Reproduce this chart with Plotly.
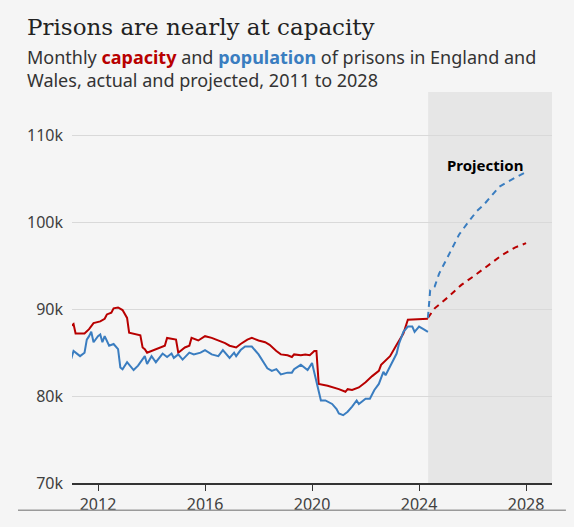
import plotly.graph_objects as go

# capacity (thousands), actual
cap_dates = ["2011-01", "2011-02", "2011-03", "2011-07", "2011-09", "2011-11", "2012-02", "2012-04",
             "2012-05", "2012-07", "2012-08", "2012-10", "2012-12", "2013-02", "2013-03", "2013-08",
             "2013-09", "2013-10", "2013-11", "2014-01", "2014-07", "2014-08", "2014-12", "2015-01",
             "2015-04", "2015-06", "2015-07", "2015-10", "2016-01", "2016-04", "2016-07", "2016-10",
             "2016-12", "2017-03", "2017-05", "2017-08", "2017-10", "2018-01", "2018-04", "2018-06",
             "2018-09", "2018-11", "2019-02", "2019-04", "2019-05", "2019-08", "2019-10", "2019-12",
             "2020-02", "2020-03", "2020-04", "2020-08", "2021-01", "2021-04", "2021-05", "2021-07",
             "2021-10", "2022-01", "2022-04", "2022-07", "2022-08", "2022-12", "2023-03", "2023-06",
             "2023-08", "2024-01", "2024-05"]
cap_values = [88.1, 88.3, 87.2, 87.2, 87.7, 88.4, 88.6, 88.9,
              89.4, 89.6, 90.1, 90.2, 89.9, 89.0, 87.3, 87.0,
              85.6, 85.4, 85.0, 85.2, 85.8, 86.7, 86.5, 85.0,
              85.6, 85.8, 86.7, 86.4, 86.9, 86.7, 86.4, 86.1,
              85.8, 85.6, 86.0, 86.5, 86.7, 86.4, 86.2, 85.9,
              85.2, 84.8, 84.7, 84.5, 84.8, 84.7, 84.8, 84.7,
              85.2, 85.2, 81.4, 81.2, 80.8, 80.5, 80.8, 80.7,
              81.0, 81.6, 82.3, 82.9, 83.6, 84.6, 85.9, 87.2,
              88.8, 88.9, 88.9]

# population (thousands), actual
pop_dates = ["2011-01", "2011-02", "2011-04", "2011-05", "2011-07", "2011-08", "2011-09", "2011-10",
             "2011-11", "2012-01", "2012-02", "2012-03", "2012-04", "2012-05", "2012-06", "2012-08",
             "2012-10", "2012-11", "2012-12", "2013-02", "2013-04", "2013-05", "2013-07", "2013-10",
             "2013-11", "2014-01", "2014-03", "2014-06", "2014-08", "2014-10", "2014-11", "2015-01",
             "2015-03", "2015-06", "2015-08", "2015-11", "2016-01", "2016-04", "2016-07", "2016-09",
             "2016-12", "2017-02", "2017-03", "2017-05", "2017-07", "2017-10", "2018-01", "2018-03",
             "2018-05", "2018-07", "2018-09", "2018-11", "2019-02", "2019-04", "2019-05", "2019-08",
             "2019-11", "2020-01", "2020-03", "2020-05", "2020-07", "2020-10", "2020-12", "2021-01",
             "2021-03", "2021-05", "2021-07", "2021-09", "2021-10", "2022-01", "2022-03", "2022-05",
             "2022-07", "2022-09", "2022-10", "2023-01", "2023-03", "2023-04", "2023-06", "2023-08",
             "2023-10", "2023-11", "2024-01", "2024-03", "2024-05"]
pop_values = [84.3, 85.2, 84.8, 84.6, 85.0, 86.5, 86.9, 87.4,
              86.2, 86.9, 87.1, 86.2, 86.9, 86.4, 85.8, 86.0,
              85.4, 83.3, 83.1, 83.9, 83.3, 83.0, 83.5, 84.6,
              83.7, 84.6, 83.9, 84.9, 84.5, 84.9, 84.4, 84.8,
              84.2, 85.0, 84.8, 85.0, 85.3, 84.8, 84.6, 85.3,
              84.4, 85.0, 84.6, 85.3, 85.7, 85.7, 84.8, 84.0,
              83.2, 82.9, 83.1, 82.5, 82.7, 82.7, 83.1, 83.6,
              83.0, 83.8, 81.5, 79.5, 79.5, 79.1, 78.5, 78.0,
              77.8, 78.2, 78.8, 79.5, 79.1, 79.7, 79.7, 80.7,
              81.4, 82.8, 82.4, 83.9, 84.9, 86.0, 87.4, 88.0,
              88.0, 87.4, 88.0, 87.7, 87.4]

# projections
cap_proj_dates = ["2024-05", "2024-08", "2025-02", "2025-08", "2026-02", "2026-08", "2027-02", "2027-08", "2028-01"]
cap_proj_values = [89.0, 90.1, 91.4, 92.8, 93.9, 95.0, 96.2, 97.1, 97.6]

pop_proj_dates = ["2024-05", "2024-06", "2024-08", "2024-10", "2025-01", "2025-04", "2025-07", "2025-11",
                  "2026-03", "2026-06", "2026-10", "2027-01", "2027-05", "2027-09", "2028-01"]
pop_proj_values = [89.0, 92.2, 92.6, 94.1, 95.6, 97.1, 98.6, 100.0,
                   101.3, 102.0, 103.2, 104.1, 104.7, 105.3, 105.8]

year_ticks = ["2012-01-01", "2016-01-01", "2020-01-01", "2024-01-01", "2028-01-01"]
year_labels = ["2012", "2016", "2020", "2024", "2028"]
y_ticks = [70, 80, 90, 100, 110]
y_labels = ["70k", "80k", "90k", "100k", "110k"]

RED = "#b80000"
BLUE = "#3a7dc0"
BG = "#f5f5f5"

fig = go.Figure()

fig.add_trace(go.Scatter(x=cap_dates, y=cap_values, mode="lines", line=dict(color=RED, width=2)))
fig.add_trace(go.Scatter(x=pop_dates, y=pop_values, mode="lines", line=dict(color=BLUE, width=2)))
fig.add_trace(go.Scatter(x=cap_proj_dates, y=cap_proj_values, mode="lines",
                         line=dict(color=RED, width=2, dash="6px,5px")))
fig.add_trace(go.Scatter(x=pop_proj_dates, y=pop_proj_values, mode="lines",
                         line=dict(color=BLUE, width=2, dash="6px,5px")))

# shaded projection period
fig.add_shape(type="rect", xref="x", yref="paper", x0="2024-05-04", x1="2028-12-20", y0=0, y1=1,
              fillcolor="#e6e6e6", line_width=0, layer="below")
# bottom rule
fig.add_shape(type="line", xref="paper", yref="paper", x0=-0.1125, x1=1.029, y0=-0.07, y1=-0.07,
              line=dict(color="#9a9a9a", width=1.5))

fig.add_annotation(text="Prisons are nearly at capacity", xref="paper", yref="paper",
                   x=-0.098, y=1.167, xanchor="left", yanchor="middle", showarrow=False,
                   font=dict(family="DejaVu Serif", size=23, color="#222"))
fig.add_annotation(text="Monthly <b><span style='color:%s'>capacity</span></b> and "
                        "<b><span style='color:%s'>population</span></b> of prisons in England and<br>"
                        "Wales, actual and projected, 2011 to 2028" % (RED, BLUE),
                   xref="paper", yref="paper", x=-0.098, y=1.06, xanchor="left", yanchor="middle",
                   align="left", showarrow=False,
                   font=dict(family="Noto Sans", size=18, color="#333"))
fig.add_annotation(text="<b>Projection</b>", x="2026-06-20", y=106.6, showarrow=False,
                   font=dict(family="Noto Sans", size=15, color="#000"))

fig.update_layout(
    width=574, height=527,
    margin=dict(l=72, r=22, t=92, b=39),
    paper_bgcolor=BG, plot_bgcolor=BG,
    showlegend=False,
    font=dict(family="Noto Sans", size=16, color="#404040"),
    xaxis=dict(range=["2011-01-11", "2028-12-20"], tickvals=year_ticks, ticktext=year_labels,
               showgrid=False, showline=True, linecolor="#333", linewidth=2,
               ticks="outside", ticklen=6, tickcolor="#333", tickwidth=1, zeroline=False),
    yaxis=dict(range=[70, 115], tickvals=y_ticks, ticktext=y_labels, showgrid=True,
               gridcolor="#d9d9d9", gridwidth=1, zeroline=False, ticks="", ticklabelstandoff=8),
)

# page has default body margin; drop it so the figure sits at the window's corner
fig.write_html("out.html", config={"displayModeBar": False},
               post_script="document.body.style.margin='0';")
